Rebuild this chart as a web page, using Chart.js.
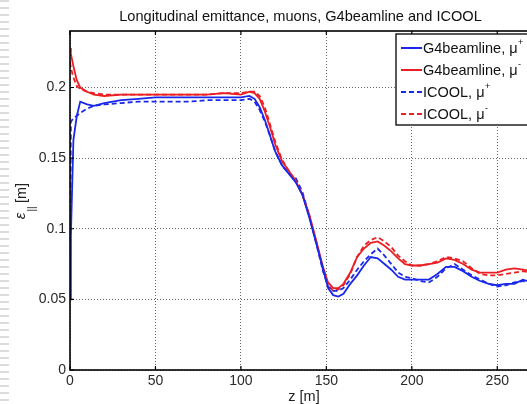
<!DOCTYPE html>
<html><head><meta charset="utf-8">
<script src="https://cdn.jsdelivr.net/npm/chart.js@4.4.1/dist/chart.umd.min.js"></script>
<style>
html,body{margin:0;padding:0;background:#fff;overflow:hidden;width:527px;height:404px;}
#wrap{position:absolute;left:0;top:0;width:545px;height:404px;}
#strip{position:absolute;left:0;top:0;width:9px;height:404px;background:repeating-linear-gradient(to bottom,#dcdcdc 0 2px,transparent 2px 7px);}
</style></head><body>
<div id="wrap"><canvas id="c" width="545" height="404"></canvas></div>
<div id="strip"></div>
<script>
const titleText = 'Longitudinal emittance, muons, G4beamline and ICOOL';
const xTicks = [0, 50, 100, 150, 200, 250];
const xTickLabels = ['0', '50', '100', '150', '200', '250'];
const yTicks = [0, 0.05, 0.1, 0.15, 0.2];
const yTickLabels = ['0', '0.05', '0.1', '0.15', '0.2'];
const seriesNames = ['G4beamline, μ', 'G4beamline, μ', 'ICOOL, μ', 'ICOOL, μ'];
const seriesSigns = ['+', '-', '+', '-'];

const z = [0, 0.5, 2, 4, 6, 10, 14, 20, 30, 40, 50, 60, 70, 80, 90, 100, 105, 108, 111, 114, 117, 120, 124, 128, 132, 136, 140, 144, 148, 151, 154, 157, 160, 164, 168, 172, 176, 180, 184, 188, 192, 196, 200, 205, 210, 215, 220, 225, 230, 235, 240, 245, 250, 255, 260, 265, 270, 275];

const g4MuPlus = [0.05, 0.095, 0.163, 0.180, 0.190, 0.188, 0.187, 0.189, 0.191, 0.192, 0.193, 0.193, 0.193, 0.193, 0.193, 0.193, 0.194, 0.192, 0.186, 0.177, 0.166, 0.155, 0.145, 0.139, 0.133, 0.124, 0.108, 0.090, 0.072, 0.058, 0.053, 0.052, 0.054, 0.061, 0.067, 0.074, 0.080, 0.079, 0.075, 0.071, 0.066, 0.064, 0.064, 0.064, 0.064, 0.068, 0.073, 0.073, 0.070, 0.066, 0.063, 0.061, 0.060, 0.061, 0.061, 0.064, 0.062, 0.062];

const g4MuMinus = [0.228, 0.224, 0.215, 0.205, 0.200, 0.197, 0.195, 0.194, 0.195, 0.195, 0.195, 0.195, 0.195, 0.195, 0.196, 0.195, 0.197, 0.196, 0.192, 0.183, 0.172, 0.160, 0.148, 0.141, 0.134, 0.124, 0.110, 0.092, 0.073, 0.062, 0.058, 0.058, 0.061, 0.069, 0.080, 0.086, 0.090, 0.091, 0.088, 0.084, 0.079, 0.075, 0.074, 0.074, 0.075, 0.076, 0.079, 0.078, 0.075, 0.071, 0.069, 0.069, 0.069, 0.071, 0.072, 0.071, 0.070, 0.070];

const icoolMuPlus = [0.05, 0.176, 0.178, 0.180, 0.182, 0.185, 0.187, 0.188, 0.189, 0.190, 0.190, 0.190, 0.190, 0.191, 0.191, 0.191, 0.192, 0.190, 0.184, 0.176, 0.166, 0.155, 0.145, 0.139, 0.136, 0.126, 0.109, 0.090, 0.070, 0.059, 0.056, 0.056, 0.058, 0.064, 0.071, 0.077, 0.082, 0.086, 0.081, 0.075, 0.069, 0.066, 0.065, 0.063, 0.062, 0.066, 0.072, 0.075, 0.071, 0.067, 0.064, 0.061, 0.059, 0.060, 0.062, 0.063, 0.061, 0.061];

const icoolMuMinus = [0.218, 0.214, 0.207, 0.201, 0.199, 0.197, 0.196, 0.195, 0.195, 0.195, 0.195, 0.195, 0.195, 0.195, 0.196, 0.196, 0.197, 0.197, 0.194, 0.186, 0.174, 0.162, 0.149, 0.141, 0.134, 0.124, 0.109, 0.091, 0.071, 0.060, 0.056, 0.057, 0.060, 0.068, 0.080, 0.088, 0.092, 0.094, 0.091, 0.087, 0.081, 0.077, 0.074, 0.074, 0.075, 0.077, 0.080, 0.079, 0.077, 0.072, 0.068, 0.067, 0.067, 0.068, 0.069, 0.070, 0.069, 0.069];

const BLUE = 'rgb(25,40,235)';
const RED = 'rgb(235,30,35)';
const seriesColors = [BLUE, RED, BLUE, RED];
const seriesDash = [[], [], [5, 3], [5, 3]];
const seriesData = [g4MuPlus, g4MuMinus, icoolMuPlus, icoolMuMinus];

const toPts = arr => z.map((v, i) => ({x: v, y: arr[i]}));
const FONT = '"Liberation Sans", Arial, Helvetica, sans-serif';

const decor = {
  id: 'decor',
  beforeDraw(chart) {
    const ctx = chart.ctx;
    ctx.save(); ctx.fillStyle = '#fff'; ctx.fillRect(0, 0, chart.width, chart.height); ctx.restore();
  },
  afterDraw(chart) {
    const {ctx, chartArea: a, scales: {x, y}} = chart;
    ctx.save();
    ctx.setLineDash([]);
    ctx.strokeStyle = '#000';
    ctx.lineWidth = 1.2;
    ctx.beginPath();
    xTicks.forEach(v => { const px = x.getPixelForValue(v);
      ctx.moveTo(px, a.bottom); ctx.lineTo(px, a.bottom - 4);
      ctx.moveTo(px, a.top); ctx.lineTo(px, a.top + 4); });
    yTicks.forEach(v => { const py = y.getPixelForValue(v);
      ctx.moveTo(a.left, py); ctx.lineTo(a.left + 4, py);
      ctx.moveTo(a.right, py); ctx.lineTo(a.right - 4, py); });
    ctx.stroke();
    ctx.lineWidth = 1.6;
    ctx.strokeRect(a.left, a.top, a.right - a.left, a.bottom - a.top);

    // title
    ctx.fillStyle = '#111';
    ctx.font = '14.6px ' + FONT;
    ctx.textAlign = 'center'; ctx.textBaseline = 'middle';
    ctx.fillText(titleText, 300.5, 17);

    // x label
    ctx.fillStyle = '#222';
    ctx.font = '14.5px ' + FONT;
    ctx.fillText('z [m]', 304, 397);

    // y label (rotated)
    ctx.save();
    ctx.translate(21, 202);
    ctx.rotate(-Math.PI / 2);
    ctx.textAlign = 'center'; ctx.textBaseline = 'middle';
    ctx.font = 'italic 15px ' + FONT;
    ctx.fillText('ε', -14, 0);
    ctx.font = '10px ' + FONT;
    ctx.fillText('||', -7, 11);
    ctx.font = '14.5px ' + FONT;
    ctx.fillText('[m]', 9, 1);
    ctx.restore();

    // legend
    const lx = 396, ly = 34, lw = 142, lh = 91;
    ctx.fillStyle = '#fff';
    ctx.fillRect(lx, ly, lw, lh);
    ctx.strokeStyle = '#000'; ctx.lineWidth = 1.3; ctx.setLineDash([]);
    ctx.strokeRect(lx, ly, lw, lh);
    const rows = [48, 70, 92, 114];
    const order = [0, 1, 2, 3];
    order.forEach((si, r) => {
      const yy = rows[r];
      ctx.strokeStyle = seriesColors[si];
      ctx.lineWidth = 2;
      ctx.setLineDash(seriesDash[si]);
      ctx.beginPath(); ctx.moveTo(401, yy); ctx.lineTo(422, yy); ctx.stroke();
      ctx.setLineDash([]);
      ctx.fillStyle = '#111';
      ctx.textAlign = 'left'; ctx.textBaseline = 'middle';
      ctx.font = '14.5px ' + FONT;
      ctx.fillText(seriesNames[si], 423, yy + 1);
      const w = ctx.measureText(seriesNames[si]).width;
      ctx.font = '9px ' + FONT;
      ctx.fillText(seriesSigns[si], 423 + w + 0.5, yy - 5);
    });
    ctx.restore();
  }
};

const datasets = seriesData.map((arr, i) => ({
  label: seriesNames[i] + seriesSigns[i],
  data: toPts(arr),
  borderColor: seriesColors[i],
  borderWidth: 1.8,
  borderDash: seriesDash[i],
  pointRadius: 0,
  tension: 0,
  fill: false
}));
// draw order: G4 lines on top of ICOOL dashes like MATLAB plot order
const ordered = [datasets[0], datasets[1], datasets[2], datasets[3]];

new Chart(document.getElementById('c'), {
  type: 'line',
  data: {datasets: ordered},
  options: {
    responsive: false,
    animation: false,
    devicePixelRatio: 1,
    layout: {padding: {top: 31, left: 0, right: 5, bottom: 0}},
    plugins: {legend: {display: false}, title: {display: false}, tooltip: {enabled: false}},
    scales: {
      x: {
        type: 'linear', min: 0, max: 275,
        afterBuildTicks: s => { s.ticks = xTicks.map(v => ({value: v})); },
        afterFit: s => { s.height = 34; },
        ticks: {
          callback: (v, i) => xTickLabels[i],
          font: {family: FONT, size: 14}, color: '#2a2a2a', padding: 3, maxRotation: 0
        },
        grid: {color: 'rgba(0,0,0,0.6)', lineWidth: 1, drawTicks: false},
        border: {display: false, dash: [1, 2]}
      },
      y: {
        type: 'linear', min: 0, max: 0.24,
        afterBuildTicks: s => { s.ticks = yTicks.map(v => ({value: v})); },
        afterFit: s => { s.width = 70; },
        ticks: {
          callback: (v, i) => yTickLabels[i],
          font: {family: FONT, size: 14}, color: '#2a2a2a', padding: 4
        },
        grid: {color: 'rgba(0,0,0,0.6)', lineWidth: 1, drawTicks: false},
        border: {display: false, dash: [1, 2]}
      }
    }
  },
  plugins: [decor]
});
</script></body></html>
